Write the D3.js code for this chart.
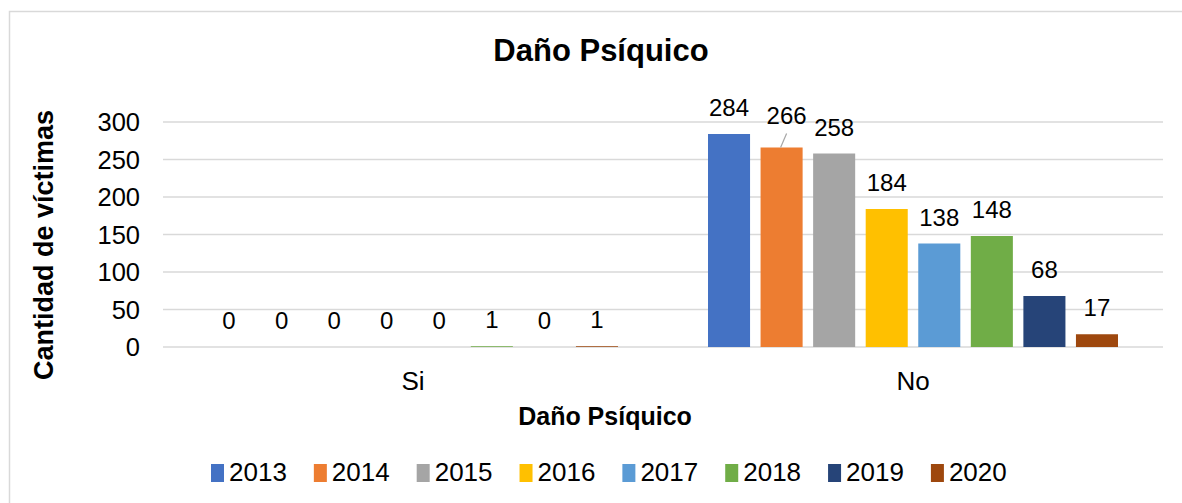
<!DOCTYPE html>
<html>
<head>
<meta charset="utf-8">
<script src="https://cdn.jsdelivr.net/npm/d3@7"></script>
<style>
  html, body { margin: 0; padding: 0; background: #fff; }
  svg { display: block; font-family: "Liberation Sans", Arial, sans-serif; }
</style>
</head>
<body>
<svg id="chart" width="1182" height="503"></svg>
<script>
const categories = ["Si", "No"];
const years = ["2013", "2014", "2015", "2016", "2017", "2018", "2019", "2020"];
const siValues = [0, 0, 0, 0, 0, 1, 0, 1];
const noValues = [284, 266, 258, 184, 138, 148, 68, 17];
const yTicks = [0, 50, 100, 150, 200, 250, 300];
const colors = ["#4472C4", "#ED7D31", "#A5A5A5", "#FFC000", "#5B9BD5", "#70AD47", "#264478", "#9E480E"];
const titleText = "Daño Psíquico";
const xTitleText = "Daño Psíquico";
const yTitleText = "Cantidad de víctimas";

const valuesByCat = { "Si": siValues, "No": noValues };
const rows = [];
categories.forEach(c => years.forEach((y, i) => rows.push({ cat: c, year: y, i, value: valuesByCat[c][i] })));

const svg = d3.select("#chart");

// outer border
svg.append("rect").attr("x", 9.5).attr("y", 11.5).attr("width", 1200).attr("height", 520)
  .attr("fill", "#fff").attr("stroke", "#d9d9d9").attr("stroke-width", 1.5);

const x0 = d3.scaleBand().domain(categories).range([163, 1163]).paddingInner(0.18).paddingOuter(0.09);
const x1 = d3.scaleBand().domain(years).range([0, x0.bandwidth()]).paddingInner(0.2);
const y = d3.scaleLinear().domain([0, 300]).range([347, 122]);

// gridlines
svg.append("g").selectAll("line").data(yTicks).join("line")
  .attr("x1", 163).attr("x2", 1163)
  .attr("y1", d => y(d)).attr("y2", d => y(d))
  .attr("stroke", "#d9d9d9").attr("stroke-width", 1.5);

// y tick labels
svg.append("g").selectAll("text").data(yTicks).join("text")
  .attr("x", 140).attr("y", d => y(d) + 9)
  .attr("text-anchor", "end").attr("font-size", 25.5).attr("fill", "#000")
  .text(d => d);

// bars
svg.append("g").selectAll("rect").data(rows).join("rect")
  .attr("x", d => x0(d.cat) + x1(d.year))
  .attr("y", d => y(d.value))
  .attr("width", x1.bandwidth())
  .attr("height", d => y(0) - y(d.value))
  .attr("fill", d => colors[d.i]);

// data labels (one label moved with a leader line, as in the source)
const moved = { "No-2014": { dx: 5, dy: -24 } };
const lbl = svg.append("g");
rows.forEach(d => {
  const cx = x0(d.cat) + x1(d.year) + x1.bandwidth() / 2;
  const top = y(d.value);
  const m = moved[d.cat + "-" + d.year];
  if (m) {
    lbl.append("line").attr("x1", cx + m.dx).attr("y1", top + m.dy + 10)
      .attr("x2", cx - 1).attr("y2", top)
      .attr("stroke", "#a6a6a6").attr("stroke-width", 1.2);
    lbl.append("text").attr("x", cx + m.dx).attr("y", top + m.dy)
      .attr("text-anchor", "middle").attr("font-size", 24).text(d.value);
  } else {
    lbl.append("text").attr("x", cx).attr("y", top - 18)
      .attr("text-anchor", "middle").attr("font-size", 24).text(d.value);
  }
});

// category labels
svg.append("g").selectAll("text").data(categories).join("text")
  .attr("x", d => x0(d) + x0.bandwidth() / 2).attr("y", 390)
  .attr("text-anchor", "middle").attr("font-size", 26).text(d => d);

// titles
svg.append("text").attr("x", 601).attr("y", 61).attr("text-anchor", "middle")
  .attr("font-size", 31).attr("font-weight", "bold").text(titleText);
svg.append("text").attr("x", 605).attr("y", 425).attr("text-anchor", "middle")
  .attr("font-size", 25).attr("font-weight", "bold").text(xTitleText);
svg.append("text").attr("transform", "translate(53,245) rotate(-90)").attr("text-anchor", "middle")
  .attr("font-size", 27).attr("font-weight", "bold").text(yTitleText);

// legend
const leg = svg.append("g");
let lx = 211;
years.forEach((yr, i) => {
  const g = leg.append("g").attr("transform", `translate(${lx},0)`);
  g.append("rect").attr("x", 0).attr("y", 464).attr("width", 13).attr("height", 18).attr("fill", colors[i]);
  const t = g.append("text").attr("x", 18).attr("y", 481).attr("font-size", 26).text(yr);
  lx += 18 + t.node().getComputedTextLength() + 27;
});
</script>
</body>
</html>
